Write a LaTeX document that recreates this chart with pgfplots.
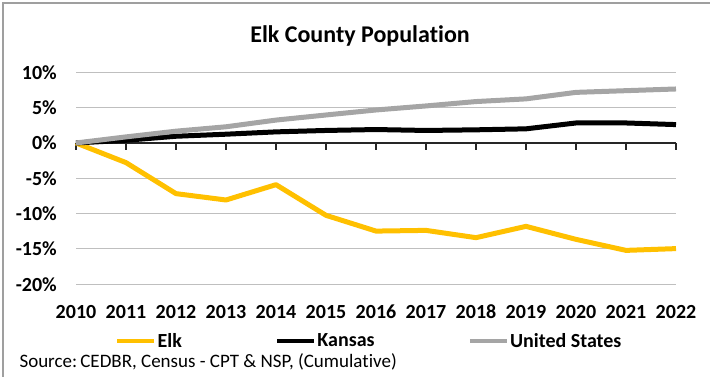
\documentclass[border=0pt]{standalone}
\usepackage{pgfplots}
\pgfplotsset{compat=1.18}
\usepackage{fontspec}
\setmainfont{Carlito}[Ligatures={NoCommon}]
\definecolor{elk}{HTML}{FFC000}
\definecolor{us}{HTML}{A5A5A5}
\definecolor{gridc}{HTML}{BFBFBF}
\begin{document}
\begin{tikzpicture}
\path[use as bounding box] (0pt,0pt) rectangle (710pt,-377pt);
\draw[color=gray!75, line width=1.3pt] (3pt,-377pt) -- (3pt,-3pt) -- (710pt,-3pt);
\node[anchor=base, font=\fontsize{24}{28}\selectfont\bfseries] at (360pt,-42.3pt) {Elk County Population};
\begin{axis}[
  at={(76pt,-284.3pt)}, anchor=south west,
  scale only axis, width=600pt, height=212pt,
  xmin=0, xmax=12, ymin=-20, ymax=10,
  enlargelimits=false, clip=false,
  axis line style={draw=none}, tick style={draw=none},
  xtick={0,1,2,3,4,5,6,7,8,9,10,11,12},
  xticklabels={2010,2011,2012,2013,2014,2015,2016,2017,2018,2019,2020,2021,2022},
  ytick={-20,-15,-10,-5,0,5,10},
  yticklabels={-20\%,-15\%,-10\%,-5\%,0\%,5\%,10\%},
  ymajorgrids, major grid style={draw=gridc, line width=1pt},
  tick label style={font=\fontsize{20}{24}\selectfont\bfseries, inner sep=0pt},
  xticklabel style={anchor=base, yshift=-34pt},
  yticklabel style={anchor=east, xshift=-19pt},
  legend columns=3,
  legend cell align=left,
  legend style={draw=none, fill=none, inner sep=0pt, at={(0.065,-0.2675)}, anchor=west,
    font=\fontsize{20}{24}\selectfont\bfseries,
    nodes={inner sep=1pt},
    /tikz/every even column/.append style={column sep=92pt}},
  legend image code/.code={\draw[#1, line width=4.5pt] (0pt,0pt) -- (37pt,0pt);},
]
\draw[black!85, line width=1.2pt] (axis cs:0,0) -- (axis cs:12,0);
\pgfplotsinvokeforeach{0,1,2,3,4,5,6,7,8,9,10,11,12}{
  \draw[black!85, line width=1.2pt] (axis cs:#1,0) -- (axis cs:#1,-0.95);
}
\addplot[elk, line width=5pt, line join=round] coordinates {
(0,0) (1,-2.78) (2,-7.17) (3,-8.07) (4,-5.9) (5,-10.24) (6,-12.47)
(7,-12.37) (8,-13.4) (9,-11.8) (10,-13.64) (11,-15.2) (12,-14.95)};
\addlegendentry{Elk}
\addplot[black, line width=5pt, line join=round] coordinates {
(0,0) (1,0.38) (2,0.95) (3,1.24) (4,1.57) (5,1.77) (6,1.9)
(7,1.77) (8,1.86) (9,2.0) (10,2.83) (11,2.83) (12,2.6)};
\addlegendentry{Kansas}
\addplot[us, line width=5pt, line join=round] coordinates {
(0,0) (1,0.86) (2,1.67) (3,2.29) (4,3.24) (5,3.96) (6,4.67)
(7,5.24) (8,5.86) (9,6.24) (10,7.16) (11,7.4) (12,7.64)};
\addlegendentry{United States}
\end{axis}
\node[anchor=base west, font=\fontsize{19}{23}\selectfont] at (16pt,-367.5pt) {Source:\,CEDBR, Census - CPT \& NSP, (Cumulative)};
\end{tikzpicture}
\end{document}
